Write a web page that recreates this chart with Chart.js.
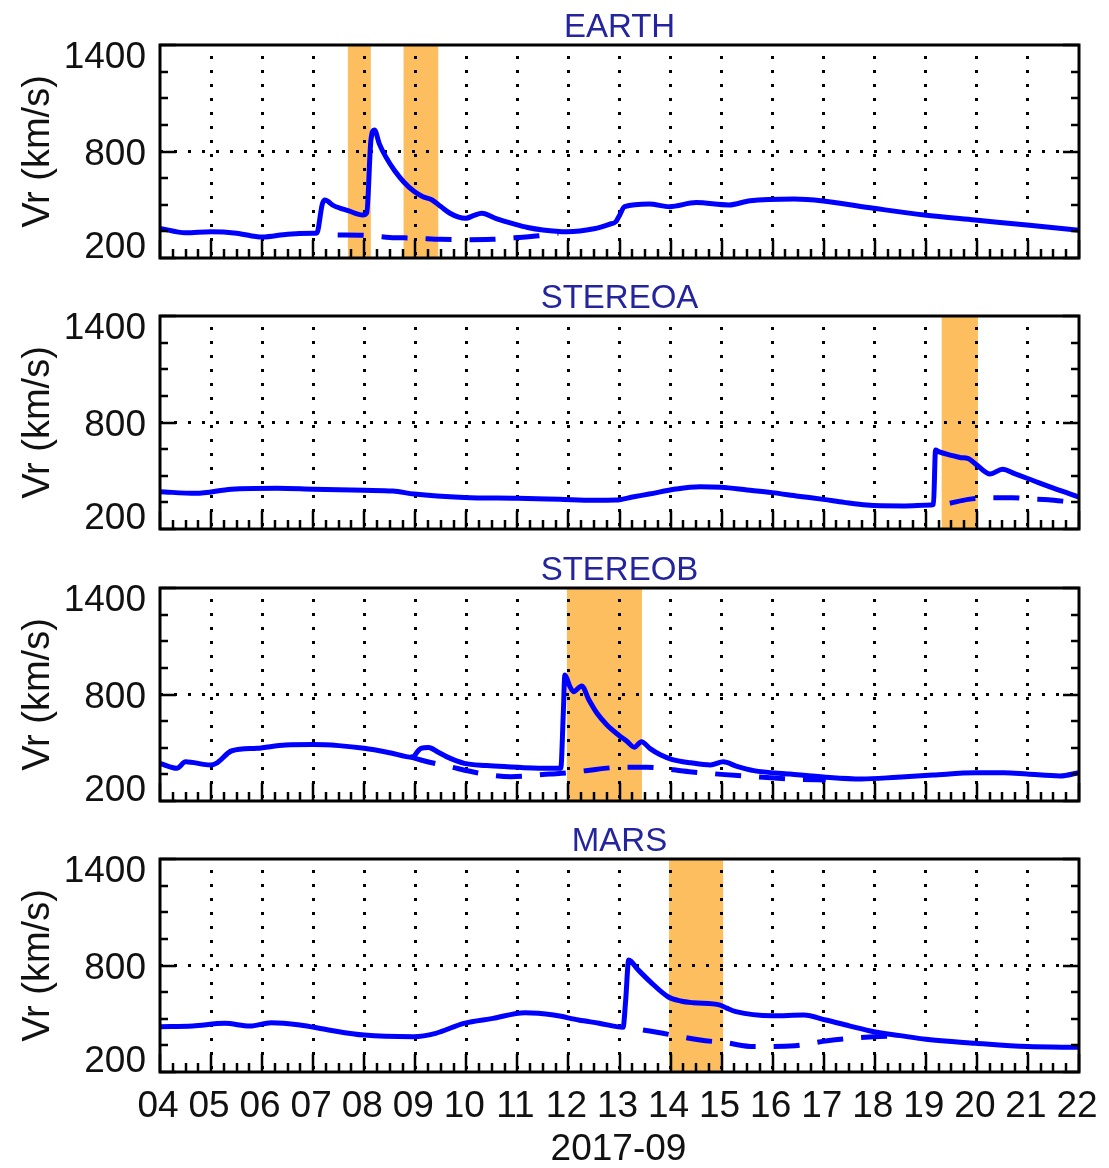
<!DOCTYPE html>
<html>
<head>
<meta charset="utf-8">
<script src="https://cdn.jsdelivr.net/npm/chart.js@4.4.1/dist/chart.umd.min.js"></script>
<style>
  html, body { margin: 0; padding: 0; background: #ffffff; }
  body { width: 1109px; height: 1168px; position: relative; overflow: hidden; }
  canvas { position: absolute; left: 0; }
</style>
</head>
<body>
<canvas id="p0" width="1109" height="271" style="top:0px"></canvas>
<canvas id="p1" width="1109" height="271" style="top:271px"></canvas>
<canvas id="p2" width="1109" height="271" style="top:543px"></canvas>
<canvas id="p3" width="1109" height="354" style="top:814px"></canvas>
<script>
// ---------------- DATA ----------------
const panelTitles = ['EARTH', 'STEREOA', 'STEREOB', 'MARS'];
const xTickLabels = ['04','05','06','07','08','09','10','11','12','13','14','15','16','17','18','19','20','21','22'];
const yTickLabels = [200, 800, 1400];
const xAxisTitle = '2017-09';
const yAxisTitle = 'Vr (km/s)';

// EARTH
const earthDays = [4.0,4.5,5.0,5.5,6.0,6.5,7.0,7.07,7.18,7.23,7.4,7.7,7.97,8.05,8.13,8.2,8.3,8.42,8.6,8.77,8.98,9.15,9.33,9.5,9.68,9.85,9.99,10.15,10.3,10.6,10.93,11.2,11.5,11.97,12.5,12.8,12.93,13.0,13.1,13.58,13.98,14.5,15.14,15.56,16.42,16.99,17.98,18.97,19.96,20.98,22.0];
const earthVr   = [367,342,348,340,318,334,339,340,505,527,495,465,442,455,860,921,840,771,690,630,574,545,527,490,452,430,424,440,452,420,392,372,358,348,365,390,405,440,489,504,489,512,499,523,532,521,480,442,414,386,356];
const earthBgDays = [7.48,8.0,8.5,9.0,9.5,10.0,10.5,11.0,11.5,11.8];
const earthBgVr   = [330,328,316,312,305,303,305,315,328,340];
const earthBands  = [[7.68, 8.13], [8.77, 9.45]];

// STEREO-A
const staDays = [4.0,4.7,5.4,6.3,7.0,8.0,8.56,8.98,9.96,11.0,11.83,12.5,12.93,13.28,13.58,14.1,14.57,14.99,15.5,15.99,16.5,16.99,17.4,17.84,18.55,19.1,19.15,19.19,19.25,19.5,19.69,19.82,20.0,20.26,20.5,20.75,20.98,21.5,22.0];
const staVr   = [410,401,424,429,424,418,414,397,378,373,367,362,363,382,397,425,438,435,420,405,385,367,350,335,330,335,339,645,636,615,602,598,560,510,536,510,486,430,380];
const staBgDays = [19.47,19.83,20.3,20.7,21.0,21.4,21.9,22.0];
const staBgVr   = [345,367,376,376,370,365,350,348];
const staBands  = [[19.31, 20.02]];

// STEREO-B
const stbDays = [4.0,4.33,4.5,4.99,5.1,5.41,5.9,6.46,7.0,7.5,8.0,8.5,8.94,9.05,9.11,9.26,9.45,9.61,9.96,10.4,10.8,11.3,11.85,11.9,11.93,12.02,12.1,12.26,12.4,12.56,12.75,12.98,13.15,13.29,13.43,13.6,13.8,14.02,14.4,14.78,15.03,15.3,15.63,16.34,17.04,17.74,18.44,19.14,19.97,20.53,20.98,21.63,22.0];
const stbVr   = [412,384,421,403,412,483,497,516,518,512,497,472,446,480,497,502,475,450,412,400,393,386,384,700,910,850,816,848,770,694,630,572,535,503,534,495,460,435,415,403,421,395,371,352,334,324,334,346,359,359,352,341,360];
const stbBgDays = [8.9,9.11,9.68,10.27,10.87,11.64,12.0,12.34,13.04,13.54,14.37,15.0,15.63,16.47,17.04];
const stbBgVr   = [450,431,393,356,337,352,359,371,390,390,365,350,337,322,318];
const stbBands  = [[11.97, 13.44]];

// MARS
const marsDays = [4.0,4.64,5.27,5.76,6.18,6.74,7.3,8.0,8.97,9.4,9.95,10.52,11.15,11.71,12.2,12.6,13.07,13.12,13.18,13.35,13.6,13.95,14.2,14.45,14.97,15.1,15.28,15.99,16.61,17.04,17.5,17.98,18.5,19.0,19.97,20.99,22.0];
const marsVr   = [455,459,474,459,478,465,437,408,399,418,474,502,534,521,493,475,452,600,831,780,709,624,600,590,577,560,540,517,521,493,460,427,405,384,362,343,339];
const marsBgDays = [13.46,13.85,14.58,15.08,15.63,16.44,17.07,17.98,18.5];
const marsBgVr   = [437,418,380,365,343,348,376,399,403];
const marsBands  = [[13.97, 15.03]];

// ---------------- STYLE / LAYOUT ----------------
const LINE_BLUE = '#0000ff';
const BAND_ORANGE = '#fdbe5f';
const TITLE_BLUE = '#24249e';
const TEXT_COLOR = '#111111';
const FONT = '"Liberation Sans", Arial, Helvetica, sans-serif';
const PAD_LEFT = 160, PAD_RIGHT = 30, PAD_TOP = 45, PLOT_H = 213;

const panels = [
  { id: 'p0', days: earthDays, vr: earthVr, bgDays: earthBgDays, bgVr: earthBgVr, bands: earthBands, bottom: false },
  { id: 'p1', days: staDays,   vr: staVr,   bgDays: staBgDays,   bgVr: staBgVr,   bands: staBands,   bottom: false },
  { id: 'p2', days: stbDays,   vr: stbVr,   bgDays: stbBgDays,   bgVr: stbBgVr,   bands: stbBands,   bottom: false },
  { id: 'p3', days: marsDays,  vr: marsVr,  bgDays: marsBgDays,  bgVr: marsBgVr,  bands: marsBands,  bottom: true }
];

function toPoints(xs, ys) { return xs.map((d, i) => ({ x: d, y: ys[i] })); }

function decoPlugin(title, bands, isBottom) {
  return {
    id: 'deco',
    beforeDraw(chart) {
      const { ctx, chartArea: a } = chart;
      const xs = chart.scales.x;
      ctx.save();
      ctx.fillStyle = BAND_ORANGE;
      bands.forEach(([s, e]) => {
        const x1 = xs.getPixelForValue(s), x2 = xs.getPixelForValue(e);
        ctx.fillRect(x1, a.top, x2 - x1, a.bottom - a.top);
      });
      ctx.restore();
    },
    afterDatasetsDraw(chart) {
      const { ctx, chartArea: a } = chart;
      const xs = chart.scales.x, ys = chart.scales.y;
      ctx.save();
      ctx.strokeStyle = '#000';
      ctx.lineWidth = 2.5;
      ctx.setLineDash([]);
      // x ticks (bottom, inward)
      for (let d = xs.min; d <= xs.max + 1e-9; d += 0.25) {
        const px = Math.round(xs.getPixelForValue(d));
        const major = Math.abs(d - Math.round(d)) < 1e-6;
        const len = major ? 18 : 9;
        ctx.beginPath();
        ctx.moveTo(px, a.bottom);
        ctx.lineTo(px, a.bottom - len);
        ctx.stroke();
      }
      // y ticks (left and right, inward)
      for (let v = ys.min; v <= ys.max + 1e-9; v += 150) {
        const py = Math.round(ys.getPixelForValue(v));
        const major = yTickLabels.includes(v);
        const len = major ? 16 : 8;
        ctx.beginPath();
        ctx.moveTo(a.left, py); ctx.lineTo(a.left + len, py);
        ctx.moveTo(a.right, py); ctx.lineTo(a.right - len, py);
        ctx.stroke();
      }
      // frame
      ctx.lineWidth = 3;
      ctx.strokeRect(a.left, a.top, a.right - a.left, a.bottom - a.top);

      // y tick labels
      ctx.fillStyle = TEXT_COLOR;
      ctx.font = '37px ' + FONT;
      ctx.textAlign = 'right';
      ctx.textBaseline = 'alphabetic';
      yTickLabels.forEach(v => {
        const py = ys.getPixelForValue(v);
        const base = Math.min(Math.max(py + 13, a.top + 23), a.bottom);
        ctx.fillText(String(v), a.left - 14, base);
      });

      // y axis title
      ctx.save();
      ctx.font = '38px ' + FONT;
      ctx.translate(49, (a.top + a.bottom) / 2);
      ctx.rotate(-Math.PI / 2);
      ctx.textAlign = 'center';
      ctx.textBaseline = 'alphabetic';
      ctx.fillText(yAxisTitle, 0, 0);
      ctx.restore();

      // panel title
      ctx.fillStyle = TITLE_BLUE;
      ctx.font = '33px ' + FONT;
      ctx.textAlign = 'center';
      ctx.textBaseline = 'alphabetic';
      ctx.fillText(title, (a.left + a.right) / 2, a.top - 8);

      if (isBottom) {
        ctx.fillStyle = TEXT_COLOR;
        ctx.font = '37px ' + FONT;
        ctx.textAlign = 'center';
        xTickLabels.forEach((lab, i) => {
          const px = xs.getPixelForValue(xs.min + i);
          ctx.fillText(lab, px - 2, a.bottom + 45);
        });
        ctx.fillText(xAxisTitle, (a.left + a.right) / 2 - 1, a.bottom + 88);
      }
      ctx.restore();
    }
  };
}

panels.forEach((p, idx) => {
  const canvas = document.getElementById(p.id);
  const padBottom = canvas.height - PAD_TOP - PLOT_H;
  new Chart(canvas.getContext('2d'), {
    type: 'line',
    data: {
      datasets: [
        {
          data: toPoints(p.days, p.vr),
          borderColor: LINE_BLUE,
          borderWidth: 5,
          pointRadius: 0,
          fill: false,
          cubicInterpolationMode: 'monotone'
        },
        {
          data: toPoints(p.bgDays, p.bgVr),
          borderColor: LINE_BLUE,
          borderWidth: 5,
          borderDash: [26, 18],
          pointRadius: 0,
          fill: false,
          cubicInterpolationMode: 'monotone'
        }
      ]
    },
    options: {
      responsive: false,
      maintainAspectRatio: false,
      animation: false,
      devicePixelRatio: 1,
      layout: { padding: { left: PAD_LEFT, right: PAD_RIGHT, top: PAD_TOP, bottom: padBottom } },
      plugins: { legend: { display: false }, tooltip: { enabled: false }, title: { display: false } },
      scales: {
        x: {
          type: 'linear',
          min: 4, max: 22,
          ticks: { display: false, stepSize: 1 },
          grid: {
            drawTicks: false,
            lineWidth: 3,
            color: c => (c.tick && (c.tick.value === 4 || c.tick.value === 22)) ? 'rgba(0,0,0,0)' : '#000'
          },
          border: { display: false, dash: [3, 11], dashOffset: -11 }
        },
        y: {
          type: 'linear',
          min: 200, max: 1400,
          ticks: { display: false, stepSize: 150 },
          grid: {
            drawTicks: false,
            lineWidth: 3,
            color: c => (c.tick && c.tick.value === 800) ? '#000' : 'rgba(0,0,0,0)'
          },
          border: { display: false, dash: [3, 11] }
        }
      }
    },
    plugins: [decoPlugin(panelTitles[idx], p.bands, p.bottom)]
  });
});
</script>
</body>
</html>
